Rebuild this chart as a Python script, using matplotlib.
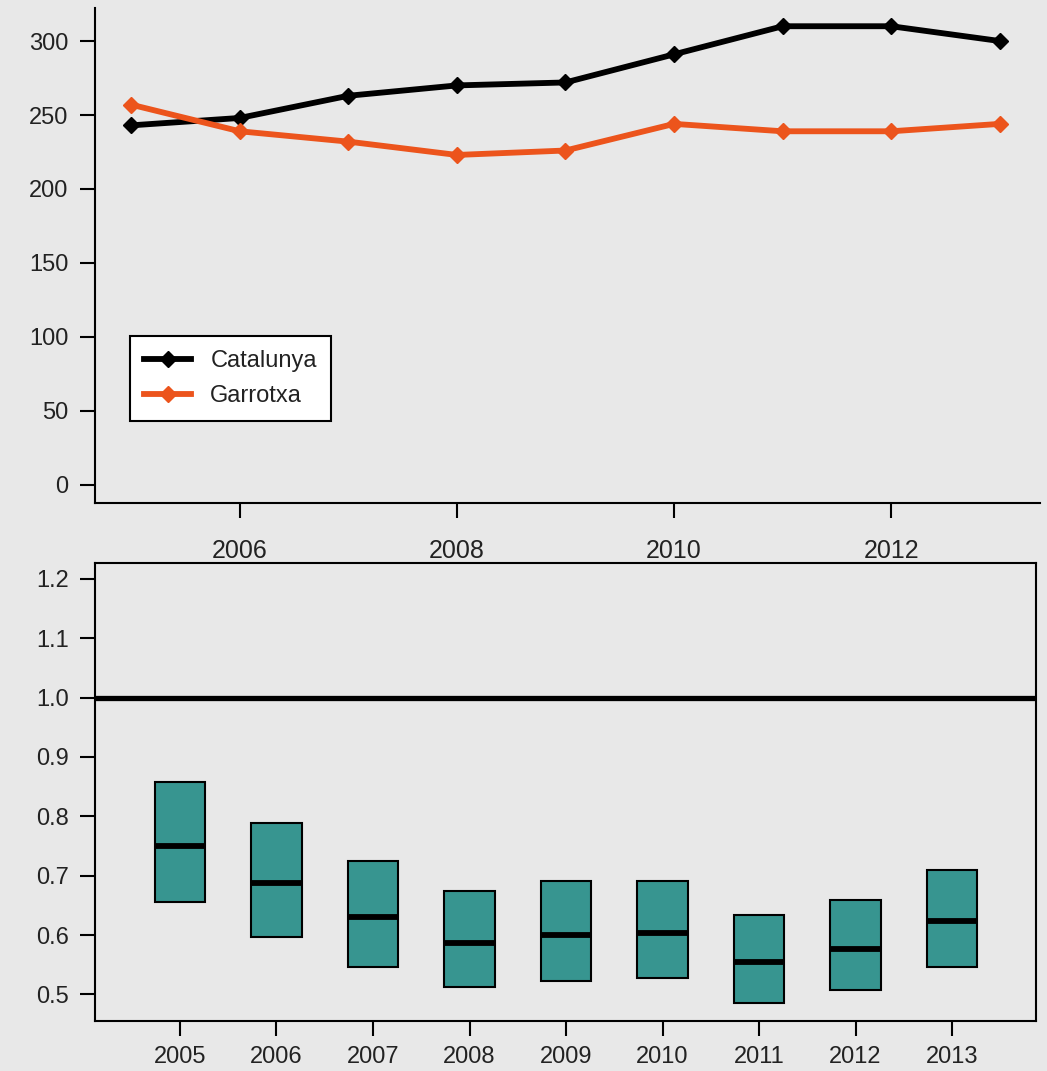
import matplotlib.pyplot as plt
import numpy as np

plt.rcParams["font.family"] = ["Liberation Sans", "DejaVu Sans"]

# Top panel data
years = [2005, 2006, 2007, 2008, 2009, 2010, 2011, 2012, 2013]
catalunya = [243, 248, 263, 270, 272, 291, 310, 310, 300]
garrotxa = [257, 239, 232, 223, 226, 244, 239, 239, 244]

# Bottom panel data (ratio intervals)
ratio_low = [0.656, 0.597, 0.547, 0.512, 0.523, 0.527, 0.485, 0.507, 0.547]
ratio_mid = [0.750, 0.688, 0.631, 0.587, 0.601, 0.604, 0.554, 0.576, 0.624]
ratio_high = [0.857, 0.789, 0.725, 0.674, 0.691, 0.691, 0.634, 0.659, 0.710]

bg = "#e8e8e8"
teal = "#379590"
orange = "#ec541c"
txt = "#222222"

fig = plt.figure(figsize=(10.47, 10.71), dpi=100, facecolor=bg)

# Top panel: line chart
ax1 = fig.add_axes([0.0907, 0.5304, 0.9026, 0.4621], facecolor=bg)
ax1.plot(years, catalunya, color="black", lw=4.2, marker="D", ms=8, label="Catalunya")
ax1.plot(years, garrotxa, color=orange, lw=4.2, marker="D", ms=8, label="Garrotxa")
ax1.set_xlim(2004.667, 2013.37)
ax1.set_ylim(-12.2, 322.3)
ax1.set_yticks([0, 50, 100, 150, 200, 250, 300])
ax1.set_xticks([2006, 2008, 2010, 2012])
for s in ["top", "right"]:
    ax1.spines[s].set_visible(False)
for s in ["left", "bottom"]:
    ax1.spines[s].set_linewidth(1.5)
ax1.tick_params(axis="y", length=11, width=1.5, labelsize=17, pad=8, labelcolor=txt)
ax1.tick_params(axis="x", length=11, width=1.5, labelsize=18, pad=15, labelcolor=txt)

leg = ax1.legend(loc="upper left", bbox_to_anchor=(130 / 1047, 1 - 336 / 1071),
                 bbox_transform=fig.transFigure, fontsize=17, frameon=True,
                 fancybox=False, edgecolor="black", framealpha=1, facecolor="white",
                 handlelength=2.0, handletextpad=0.8, labelspacing=0.55,
                 borderpad=0.6, borderaxespad=0)
leg.get_frame().set_linewidth(1.5)
for t in leg.get_texts():
    t.set_color(txt)

# Bottom panel: interval boxes
ax2 = fig.add_axes([0.0907, 0.0467, 0.8988, 0.4276], facecolor=bg)
yr = np.array(years)
low = np.array(ratio_low)
high = np.array(ratio_high)
w = 0.52
ax2.bar(yr, high - low, bottom=low, width=w, color=teal, edgecolor="black", lw=1.5, zorder=2)
ax2.hlines(ratio_mid, yr - w / 2, yr + w / 2, color="black", lw=4.2, zorder=3)
ax2.axhline(1.0, color="black", lw=3.8, zorder=3)
ax2.set_xlim(2004.119, 2013.87)
ax2.set_ylim(0.4554, 1.2264)
ax2.set_xticks(years)
ax2.set_yticks([0.5, 0.6, 0.7, 0.8, 0.9, 1.0, 1.1, 1.2])
ax2.set_yticklabels(["0.5", "0.6", "0.7", "0.8", "0.9", "1.0", "1.1", "1.2"])
for s in ax2.spines.values():
    s.set_linewidth(1.5)
ax2.tick_params(axis="y", length=11, width=1.5, labelsize=17, pad=8, labelcolor=txt)
ax2.tick_params(axis="x", length=11, width=1.5, labelsize=17, pad=7, labelcolor=txt)

fig.savefig("out.png", dpi=100, facecolor=bg)
